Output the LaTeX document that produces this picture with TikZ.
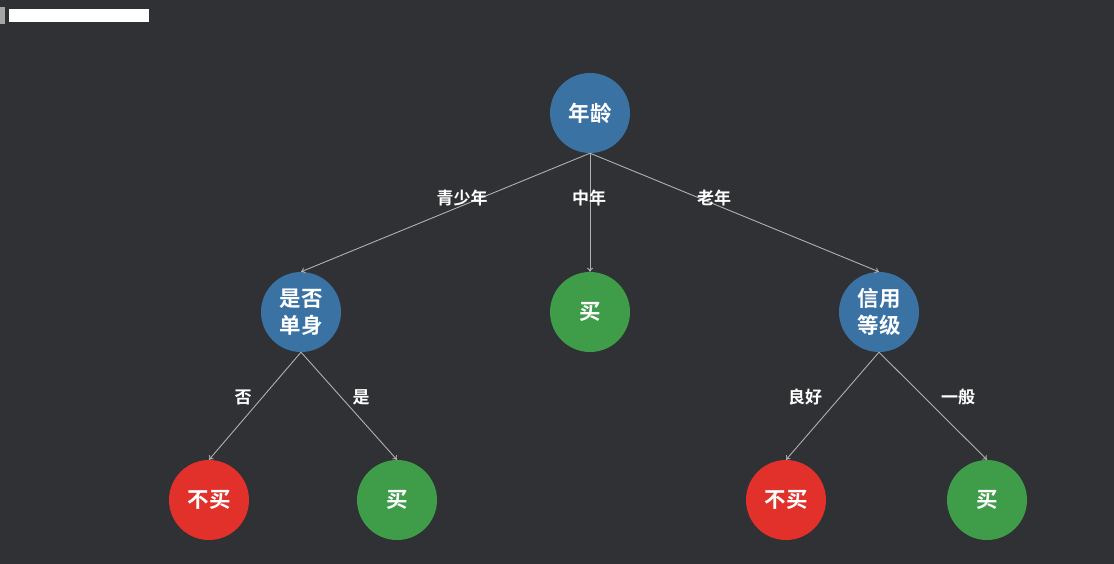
\documentclass[tikz,border=0pt]{standalone}
\usepackage{fontspec}
\newfontfamily\cjk{Noto Sans CJK SC}[BoldFont={* Bold}]
\usetikzlibrary{arrows.meta}
\definecolor{bgc}{HTML}{2F3135}
\definecolor{nblue}{HTML}{3A72A3}
\definecolor{ngreen}{HTML}{3F9D4A}
\definecolor{nred}{HTML}{E2312A}
\definecolor{edgec}{HTML}{B0B0B0}
\tikzset{
  tnode/.style={circle, minimum size=80pt, inner sep=0pt, text=white,
    font=\cjk\bfseries\fontsize{21.5}{27}\selectfont, align=center},
  attr/.style={tnode, fill=nblue},
  buy/.style={tnode, fill=ngreen},
  nobuy/.style={tnode, fill=nred},
  edge/.style={draw=edgec, line width=0.9pt, -{To[length=4pt,width=6pt]}},
  elabel/.style={text=white, font=\cjk\bfseries\fontsize{17}{19}\selectfont, inner sep=1pt}
}
\begin{document}
\begin{tikzpicture}[x=1pt,y=-1pt]
\fill[bgc] (0,0) rectangle (1114,564);
\useasboundingbox (0,0) rectangle (1114,564);
\fill[white] (9,9) rectangle (149,22);
\fill[gray!70] (0,7) rectangle (5,24);
% nodes
\node[attr] (root) at (590,113) {年龄};
\node[attr] (single) at (301,312) {是否\\单身};
\node[buy] (mid) at (590,312) {买};
\node[attr] (credit) at (879,312) {信用\\等级};
\node[nobuy] (l1) at (209,500) {不买};
\node[buy] (l2) at (397,500) {买};
\node[nobuy] (r1) at (786,500) {不买};
\node[buy] (r2) at (987,500) {买};
% edges
\draw[edge] (root.south) -- (single.north);
\draw[edge] (root.south) -- (mid.north);
\draw[edge] (root.south) -- (credit.north);
\draw[edge] (single.south) -- (l1.north);
\draw[edge] (single.south) -- (l2.north);
\draw[edge] (credit.south) -- (r1.north);
\draw[edge] (credit.south) -- (r2.north);
% labels
\node[elabel] (la) at (462,198) {青少年};
\node[elabel] (lb) at (589,198) {中年};
\node[elabel] (lc) at (714,198) {老年};
\node[elabel] (ld) at (243,397) {否};
\node[elabel] (le) at (361,397) {是};
\node[elabel] (lf) at (805,397) {良好};
\node[elabel] (lg) at (958,397) {一般};
\end{tikzpicture}
\end{document}
